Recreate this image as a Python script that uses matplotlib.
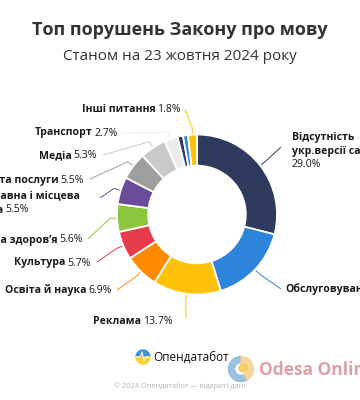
import matplotlib
matplotlib.use("Agg")
import matplotlib.pyplot as plt
import numpy as np
from matplotlib.offsetbox import AnnotationBbox, HPacker, TextArea, VPacker
from matplotlib.patches import Circle, Wedge

plt.rcParams["font.family"] = ["Open Sans", "DejaVu Sans"]

# data, clockwise from 12 o'clock
categories = [
    "Відсутність укр.версії сайту", "Обслуговування", "Реклама",
    "Освіта й наука", "Культура", "Охорона здоров’я",
    "Державна і місцева влада", "Торгівля та послуги", "Медіа",
    "Транспорт", "Інше 1", "Інше 2", "Інші питання",
]
values = [29.0, 16.2, 13.7, 6.9, 5.7, 5.6, 5.5, 5.5, 5.3, 2.7, 1.1, 1.0, 1.8]
colors = [
    "#2e3b5e", "#2d84db", "#ffc107", "#ff8a00", "#e63b4b", "#8cc63f",
    "#6a4c98", "#9e9e9e", "#c9c9c9", "#ececec", "#2e3b5e", "#2d84db", "#ffc107",
]

H = 400
CX, CY, R = 197, 214.5, 80


def py(y):
    return H - y


# label layout: index, name lines, anchor xy (px), alignment, line end (px), mode
labels = [
    (0, ["Відсутність", "укр.версії сайту"], (292, 151), "left", (281, 147), "below"),
    (1, ["Обслуговування"], (285, 289), "left", (281, 289), "inline"),
    (2, ["Реклама"], (173, 322), "right", (186, 318), "inline"),
    (3, ["Освіта й наука"], (112, 290), "right", (117, 290), "inline"),
    (4, ["Культура"], (91, 263), "right", (97, 262), "inline"),
    (5, ["Охорона здоров’я"], (83, 240), "right", (88, 239), "inline"),
    (6, ["Державна і місцева", "влада"], (80, 203), "right", (100, 198), "inline"),
    (7, ["Торгівля та послуги"], (84, 180), "right", (90, 179), "inline"),
    (8, ["Медіа"], (97, 156), "right", (103, 155), "inline"),
    (9, ["Транспорт"], (118, 133), "right", (122, 133), "inline"),
    (12, ["Інші питання"], (181, 110), "right", (185, 109), "inline"),
]

fig = plt.figure(figsize=(3.6, 4.0), dpi=100)
ax = fig.add_axes([0, 0, 1, 1])

wedges, _ = ax.pie(
    values, colors=colors, startangle=90, counterclock=False,
    center=(CX, py(CY)), radius=R,
    wedgeprops=dict(width=R * 0.39, edgecolor="white", linewidth=1.3),
)
ax.set_xlim(0, 360)
ax.set_ylim(0, H)
ax.set_aspect("equal")
ax.axis("off")

fs = 7.6
for idx, name_lines, (lx, ly), align, (ex, ey), mode in labels:
    pct = f"{values[idx]:.1f}%"
    bold = dict(fontweight="bold", fontsize=fs, color="#1a1a1a")
    reg = dict(fontsize=fs, color="#1a1a1a")
    rows = [TextArea(t, textprops=bold) for t in name_lines[:-1]]
    if mode == "below":
        rows.append(TextArea(name_lines[-1], textprops=bold))
        rows.append(TextArea(pct, textprops=reg))
    else:
        rows.append(HPacker(children=[TextArea(name_lines[-1], textprops=bold),
                                      TextArea(pct, textprops=reg)],
                            sep=1.5, pad=0, align="baseline"))
    box = VPacker(children=rows, sep=1.2, pad=0, align="left")
    ab = AnnotationBbox(box, (lx, py(ly)), frameon=False,
                        box_alignment=(0 if align == "left" else 1, 0.5),
                        pad=0, annotation_clip=False)
    ax.add_artist(ab)

    w = wedges[idx]
    mid = np.deg2rad((w.theta1 + w.theta2) / 2)
    x0, y0 = CX + (R + 1) * np.cos(mid), CY - (R + 1) * np.sin(mid)
    x1, y1 = CX + (R + 7) * np.cos(mid), CY - (R + 7) * np.sin(mid)
    ax.plot([x0, x1, ex], [py(y0), py(y1), py(ey)], color=colors[idx],
            lw=0.7, solid_capstyle="butt", zorder=0)

# titles
fig.text(0.5, py(30) / H, "Топ порушень Закону про мову", ha="center", va="center",
         fontsize=13, fontweight="bold", color="#333333")
fig.text(0.5, py(57) / H, "Станом на 23 жовтня 2024 року", ha="center", va="center",
         fontsize=11, color="#333333")

# Opendatabot logo + caption
ax.add_patch(Wedge((143, py(357)), 7, 0, 180, color="#3d8fe0"))
ax.add_patch(Wedge((143, py(357)), 7, 180, 360, color="#ffd02a"))
ax.plot([136, 140, 142, 144, 146, 150],
        [py(357), py(357), py(352), py(361), py(357), py(357)], color="white", lw=0.8)
ax.text(153, py(357), "Опендатабот", fontsize=8.5, va="center", color="#111111")
ax.text(180, py(386), "© 2024 Опендатабот — відкриті дані", fontsize=5.3,
        ha="center", va="center", color="#b5b5b5")

# Odesa Online watermark
ax.add_patch(Wedge((241, py(369)), 12.5, 90, 300, width=6, color="#8ab8dc", alpha=0.85))
ax.add_patch(Wedge((241, py(369)), 12.5, 300, 450, width=6, color="#f4d28a", alpha=0.85))
ax.add_patch(Circle((243, py(368)), 4, color="#f2c84e", alpha=0.85))
ax.text(259, py(370), "Odesa Online", fontsize=12.5, fontweight="bold",
        va="center", color="#d99ca2", alpha=0.95)

fig.savefig("out.png", dpi=100)
